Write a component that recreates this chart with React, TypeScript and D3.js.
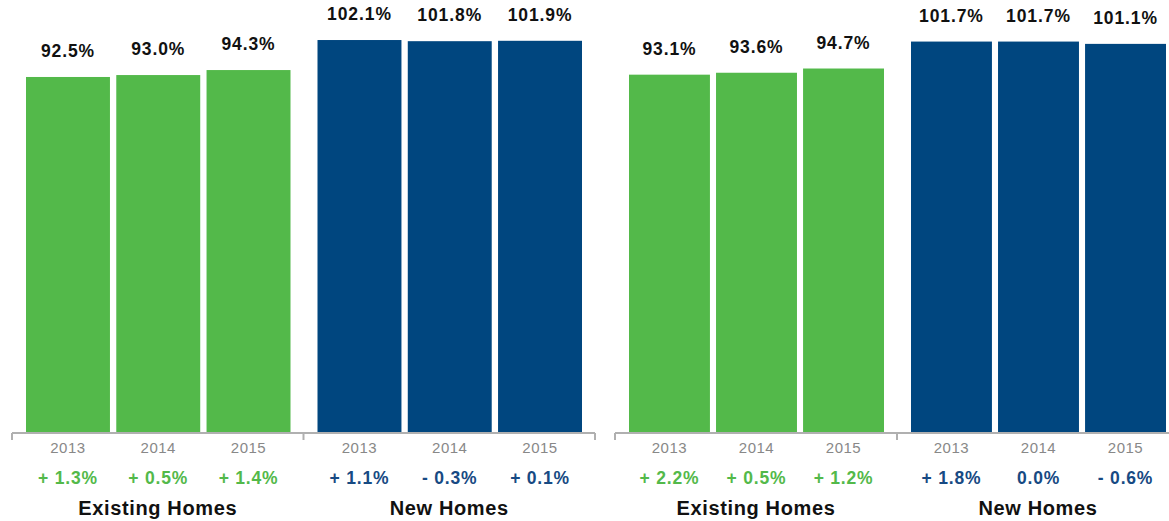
import React from "react";
import * as d3 from "d3";

const years = ["2013", "2014", "2015"];
const groups = ["Existing Homes", "New Homes"];

// Panel A (left)
const panelAExisting = [92.5, 93.0, 94.3];
const panelANew = [102.1, 101.8, 101.9];
const panelAExistingChange = ["+ 1.3%", "+ 0.5%", "+ 1.4%"];
const panelANewChange = ["+ 1.1%", "- 0.3%", "+ 0.1%"];

// Panel B (right)
const panelBExisting = [93.1, 93.6, 94.7];
const panelBNew = [101.7, 101.7, 101.1];
const panelBExistingChange = ["+ 2.2%", "+ 0.5%", "+ 1.2%"];
const panelBNewChange = ["+ 1.8%", "0.0%", "- 0.6%"];

const GREEN = "#53b94a";
const BLUE = "#00467f";
const W = 1169;
const H = 521;
const AXIS_Y = 433;
const FONT = "'Liberation Sans', Arial, Helvetica, sans-serif";

const y = d3.scaleLinear().domain([0, 112.5]).range([AXIS_Y, 0]);

type PanelProps = {
  x0: number;
  groupW: number;
  existing: number[];
  news: number[];
  existingChange: string[];
  newChange: string[];
};

function Panel({ x0, groupW, existing, news, existingChange, newChange }: PanelProps) {
  const outer = d3.scaleBand<string>().domain(groups).range([x0, x0 + groupW * 2]);
  const series = [
    { values: existing, changes: existingChange, color: GREEN },
    { values: news, changes: newChange, color: BLUE },
  ];
  return (
    <g>
      {groups.map((g, gi) => {
        const gx = outer(g)!;
        const inner = d3
          .scaleBand<string>()
          .domain(years)
          .range([gx + 14, gx + groupW - 13])
          .paddingInner(0.07);
        const s = series[gi];
        return (
          <g key={g}>
            {years.map((yr, i) => {
              const v = s.values[i];
              const bx = inner(yr)!;
              const bw = inner.bandwidth();
              const cx = bx + bw / 2;
              return (
                <g key={yr}>
                  <rect x={bx} y={y(v)} width={bw} height={AXIS_Y - 1 - y(v)} fill={s.color} />
                  <text
                    x={cx}
                    y={y(v) - 20}
                    textAnchor="middle"
                    fontFamily={FONT}
                    fontWeight="bold"
                    fontSize={17.5}
                    letterSpacing={0.9}
                    fill="#111"
                  >
                    {v.toFixed(1) + "%"}
                  </text>
                  <text
                    x={cx}
                    y={453}
                    textAnchor="middle"
                    fontFamily={FONT}
                    fontSize={15}
                    letterSpacing={0.5}
                    fill="#888"
                  >
                    {yr}
                  </text>
                  <text
                    x={cx}
                    y={484}
                    textAnchor="middle"
                    fontFamily={FONT}
                    fontWeight="bold"
                    fontSize={17.5}
                    letterSpacing={0.8}
                    fill={s.color === GREEN ? GREEN : "#174a83"}
                  >
                    {s.changes[i]}
                  </text>
                </g>
              );
            })}
            <text
              x={gx + groupW / 2}
              y={515}
              textAnchor="middle"
              fontFamily={FONT}
              fontWeight="bold"
              fontSize={20}
              letterSpacing={0.65}
              fill="#111"
            >
              {g}
            </text>
          </g>
        );
      })}
      <line x1={x0} x2={x0 + groupW * 2} y1={AXIS_Y} y2={AXIS_Y} stroke="#b0b0b0" strokeWidth={2} />
      {[0, 1, 2].map((k) => (
        <line
          key={k}
          x1={x0 + groupW * k}
          x2={x0 + groupW * k}
          y1={AXIS_Y}
          y2={AXIS_Y + 7}
          stroke="#b0b0b0"
          strokeWidth={2}
        />
      ))}
    </g>
  );
}

export default function App() {
  return (
    <div style={{ position: "fixed", left: 0, top: 0, background: "#fff" }}>
      <svg width={W} height={H} style={{ display: "block" }}>
        <rect width={W} height={H} fill="#fff" />
        <Panel
          x0={12}
          groupW={291.5}
          existing={panelAExisting}
          news={panelANew}
          existingChange={panelAExistingChange}
          newChange={panelANewChange}
        />
        <Panel
          x0={615}
          groupW={282}
          existing={panelBExisting}
          news={panelBNew}
          existingChange={panelBExistingChange}
          newChange={panelBNewChange}
        />
      </svg>
    </div>
  );
}
